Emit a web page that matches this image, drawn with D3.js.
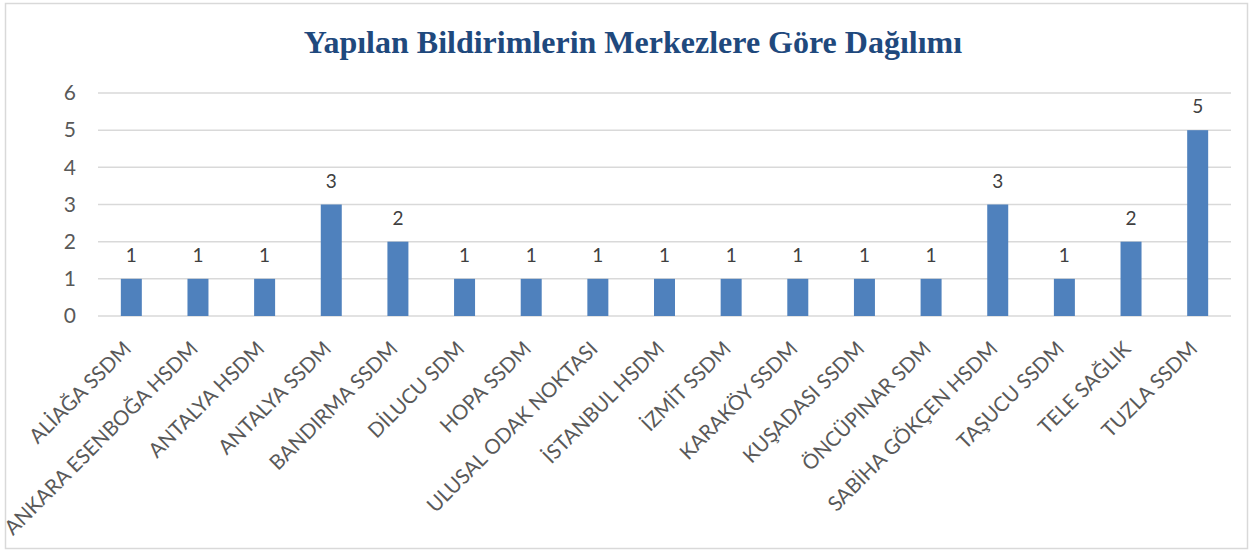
<!DOCTYPE html>
<html><head><meta charset="utf-8">
<script src="https://cdn.jsdelivr.net/npm/d3@7"></script>
<style>body{margin:0;background:#fff}</style>
</head><body>
<svg id="c" width="1253" height="553"></svg>
<script>
const categories = ["ALİAĞA SSDM","ANKARA ESENBOĞA HSDM","ANTALYA HSDM","ANTALYA SSDM","BANDIRMA SSDM","DİLUCU SDM","HOPA SSDM","ULUSAL ODAK NOKTASI","İSTANBUL HSDM","İZMİT SSDM","KARAKÖY SSDM","KUŞADASI SSDM","ÖNCÜPINAR SDM","SABİHA GÖKÇEN HSDM","TAŞUCU SSDM","TELE SAĞLIK","TUZLA SSDM"];
const values = [1,1,1,3,2,1,1,1,1,1,1,1,1,3,1,2,5];
const yTicks = [0,1,2,3,4,5,6];
const title = "Yapılan Bildirimlerin Merkezlere Göre Dağılımı";

const svg = d3.select("#c");
svg.append("rect").attr("x",5.5).attr("y",3.5).attr("width",1242).attr("height",545)
  .attr("fill","#fff").attr("stroke","#d9d9d9").attr("stroke-width",1.5);

const x = d3.scaleBand().domain(categories).range([98,1231]).paddingInner(0.685).paddingOuter(0.3425);
const y = d3.scaleLinear().domain([0,6]).range([316,93]);

svg.append("text").attr("x",633).attr("y",53).attr("text-anchor","middle")
  .attr("font-family","Liberation Serif").attr("font-weight","bold").attr("font-size",32)
  .attr("fill","#1f497d").text(title);

const grid = svg.append("g");
grid.selectAll("line").data(yTicks).join("line")
  .attr("x1",98).attr("x2",1231).attr("y1",d=>y(d)).attr("y2",d=>y(d))
  .attr("stroke","#d9d9d9").attr("stroke-width",1.5);

const yAxis = d3.axisLeft(y).tickValues(yTicks).tickFormat(d3.format("d")).tickSize(0).tickPadding(0);
const ya = svg.append("g").attr("transform","translate(76,0)").call(yAxis);
ya.select(".domain").remove();
ya.selectAll("text").attr("font-family","Lato").attr("font-size",21).attr("fill","#595959");

svg.append("g").selectAll("rect").data(values).join("rect")
  .attr("x",(d,i)=>x(categories[i])).attr("width",x.bandwidth())
  .attr("y",d=>y(d)).attr("height",d=>y(0)-y(d)).attr("fill","#4f81bd");

svg.append("g").selectAll("text").data(values).join("text")
  .attr("x",(d,i)=>x(categories[i])+x.bandwidth()/2).attr("y",d=>y(d)-17)
  .attr("text-anchor","middle").attr("font-family","Lato").attr("font-size",19)
  .attr("fill","#404040").text(d=>d);

const xAxis = d3.axisBottom(x).tickSize(0).tickPadding(0);
const xa = svg.append("g").attr("transform","translate(0,340)").call(xAxis);
xa.select(".domain").remove();
xa.selectAll("text").attr("font-family","Lato").attr("font-size",20.5).attr("fill","#595959")
  .attr("text-anchor","end").attr("dy","0.7em")
  .attr("transform","translate(-9,0) rotate(-45)");
</script>
</body></html>
